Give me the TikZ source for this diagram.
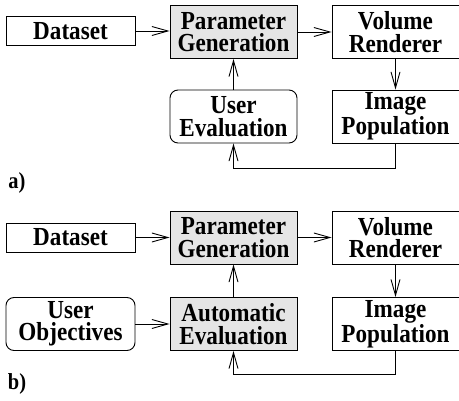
\documentclass[tikz,border=0pt]{standalone}
\usepackage{fontspec}
\setmainfont{Liberation Serif}
\newfontfamily\boxfont[FakeStretch=0.89]{Liberation Serif}
\usepackage{tikz}
\usetikzlibrary{arrows.meta,calc}
\definecolor{boxgray}{gray}{0.9}
\tikzstyle{stage}=[draw, line width=0.9pt, minimum width=127pt, minimum height=53pt, inner sep=0pt, align=center, font=\boxfont\fontsize{26}{22.5}\selectfont\bfseries]
\tikzstyle{userbox}=[stage, rounded corners=8pt]
\tikzstyle{autobox}=[stage, fill=boxgray]
\tikzstyle{flow}=[line width=0.9pt, -{Straight Barb[length=16pt,width=9pt,line width=0.9pt]}]
\tikzstyle{panel}=[font=\boxfont\fontsize{23}{24}\selectfont\bfseries, inner sep=0pt]
\begin{document}
\begin{tikzpicture}[x=1pt,y=1pt]
\useasboundingbox (0,0) rectangle (459,400);
% a) user in the loop
\node[stage, minimum width=129pt, minimum height=29pt] (ds_a) at (70.5,369) {Dataset};
\node[autobox] (pg_a) at (233.5,368) {Parameter\\Generation};
\node[stage] (vr_a) at (395.5,368) {Volume\\Renderer};
\node[userbox] (ue_a) at (233.5,283.5) {User\\Evaluation};
\node[stage] (ip_a) at (395.5,283.5) {Image\\Population};
\coordinate (fb_a) at (395.5,232);
\node[panel] (lab_a) at (17,217) {a)};
\draw[flow] (ds_a.east) -- (ds_a.east -| pg_a.west);
\draw[flow] (pg_a.east) -- (vr_a.west);
\draw[flow] (vr_a.south) -- (ip_a.north);
\draw[flow] (ue_a.north) -- (pg_a.south);
\draw[flow] (ip_a.south) -- (fb_a) -| (ue_a.south);
% b) automatic evaluation
\node[stage, minimum width=129pt, minimum height=29pt] (ds_b) at (70.5,162.5) {Dataset};
\node[autobox] (pg_b) at (233.5,162.5) {Parameter\\Generation};
\node[stage] (vr_b) at (395.5,162.5) {Volume\\Renderer};
\node[userbox, minimum width=129pt] (uo_b) at (70.5,76) {User\\Objectives};
\node[autobox] (ae_b) at (233.5,76) {Automatic\\Evaluation};
\node[stage] (ip_b) at (395.5,76) {Image\\Population};
\coordinate (fb_b) at (395.5,26);
\node[panel] (lab_b) at (17,16) {b)};
\draw[flow] (ds_b.east) -- (pg_b.west);
\draw[flow] (pg_b.east) -- (vr_b.west);
\draw[flow] (vr_b.south) -- (ip_b.north);
\draw[flow] (uo_b.east) -- (ae_b.west);
\draw[flow] (ae_b.north) -- (pg_b.south);
\draw[flow] (ip_b.south) -- (fb_b) -| (ae_b.south);
\end{tikzpicture}
\end{document}
